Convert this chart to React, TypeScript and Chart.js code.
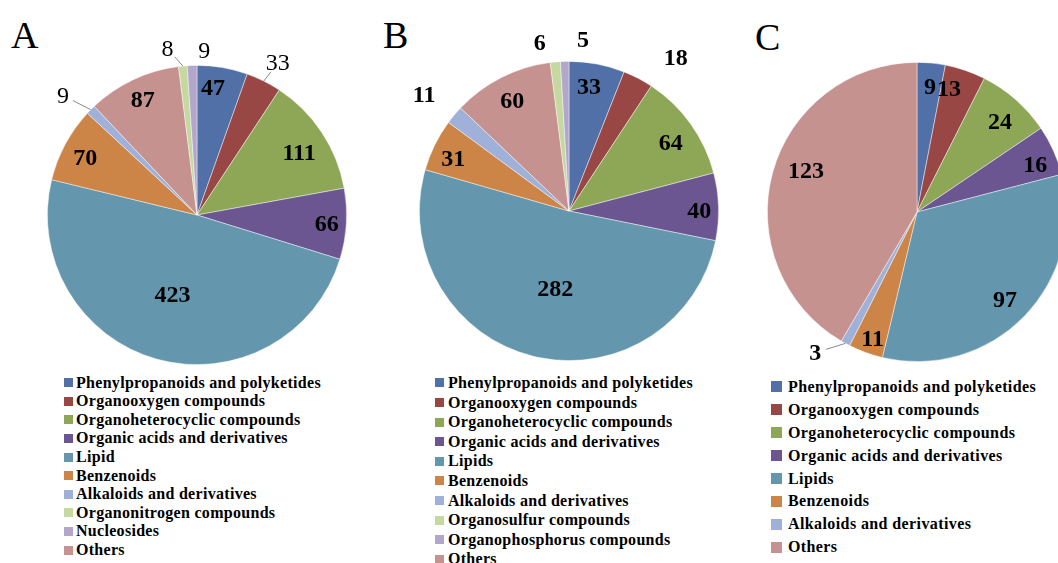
import React, { useEffect, useRef } from "react";
import { Chart, registerables } from "chart.js";
Chart.register(...registerables);

const FONT = "'Liberation Serif', 'Times New Roman', serif";

const BLUE = "#5170A8";
const RED = "#984745";
const GREEN = "#8EA756";
const PURPLE = "#6B5691";
const TEAL = "#6497AE";
const ORANGE = "#CD8547";
const LBLUE = "#9FB0D9";
const PINK = "#C59290";
const LGREEN = "#C4D8A0";
const LAVENDER = "#B2A6CB";

// ---- Panel A ----
const aCategories = [
  "Phenylpropanoids and polyketides",
  "Organooxygen compounds",
  "Organoheterocyclic compounds",
  "Organic acids and derivatives",
  "Lipid",
  "Benzenoids",
  "Alkaloids and derivatives",
  "Others",
  "Organonitrogen compounds",
  "Nucleosides",
];
const aValues = [47, 33, 111, 66, 423, 70, 9, 87, 8, 9];
const aColors = [BLUE, RED, GREEN, PURPLE, TEAL, ORANGE, LBLUE, PINK, LGREEN, LAVENDER];
const aLegendOrder = [0, 1, 2, 3, 4, 5, 6, 8, 9, 7];
const aLabelRadius = [0.86, 1.15, 0.8, 0.87, 0.56, 0.84, 1.2, 0.85, 1.13, 1.1];
const aLabelShift = [-2.7, 1.5, 2, 0.5, 1.5, -1, -3, 0, -4.6, 4.4];
const aLeader = [false, true, false, false, false, false, true, false, true, false];
const aBold = [true, false, true, true, true, true, false, true, false, false];

// ---- Panel B ----
const bCategories = [
  "Phenylpropanoids and polyketides",
  "Organooxygen compounds",
  "Organoheterocyclic compounds",
  "Organic acids and derivatives",
  "Lipids",
  "Benzenoids",
  "Alkaloids and derivatives",
  "Others",
  "Organosulfur compounds",
  "Organophosphorus compounds",
];
const bValues = [33, 18, 64, 40, 282, 31, 11, 60, 6, 5];
const bColors = [BLUE, RED, GREEN, PURPLE, TEAL, ORANGE, LBLUE, PINK, LGREEN, LAVENDER];
const bLegendOrder = [0, 1, 2, 3, 4, 5, 6, 8, 9, 7];
const bLabelRadius = [0.84, 1.25, 0.82, 0.87, 0.53, 0.85, 1.24, 0.83, 1.14, 1.15];
const bLabelShift = [-1.6, 7.3, 1.7, 1.6, -3.8, -1.7, -1.3, -0.4, -4.6, 6.3];
const bLeader = [false, false, false, false, false, false, false, false, false, false];
const bBold = [true, true, true, true, true, true, true, true, true, true];

// ---- Panel C ----
const cCategories = [
  "Phenylpropanoids and polyketides",
  "Organooxygen compounds",
  "Organoheterocyclic compounds",
  "Organic acids and derivatives",
  "Lipids",
  "Benzenoids",
  "Alkaloids and derivatives",
  "Others",
];
const cValues = [9, 13, 24, 16, 97, 11, 3, 123];
const cColors = [BLUE, RED, GREEN, PURPLE, TEAL, ORANGE, LBLUE, PINK];
const cLegendOrder = [0, 1, 2, 3, 4, 5, 6, 7];
const cLabelRadius = [0.84, 0.85, 0.82, 0.85, 0.83, 0.9, 1.16, 0.79];
const cLabelShift = [0.5, -4.3, 1.3, 2.6, 0.5, -0.8, 7.3, 5];
const cLeader = [false, false, false, false, false, false, true, false];
const cBold = [true, true, true, true, true, true, true, true];

type PanelProps = {
  letter: string;
  letterX: number;
  letterY: number;
  categories: string[];
  values: number[];
  colors: string[];
  legendOrder: number[];
  labelRadius: number[];
  labelShift: number[];
  leader: boolean[];
  bold: boolean[];
  canvasLeft: number;
  canvasW: number;
  canvasH: number;
  pad: { left: number; top: number; right: number; bottom: number };
  legendX: number;
  legendY: number;
  legendRow: number;
  legendBox: number;
  legendFont: number;
  legendSpacing: number;
  legendGap: number;
};

const labelPlugin = {
  id: "sliceLabels",
  afterDatasetsDraw(chart: any, _args: any, opts: any) {
    const ctx = chart.ctx;
    const meta = chart.getDatasetMeta(0);
    const data = chart.data.datasets[0].data as number[];
    ctx.save();
    meta.data.forEach((arc: any, i: number) => {
      const { x, y, startAngle, endAngle, outerRadius } = arc.getProps(
        ["x", "y", "startAngle", "endAngle", "outerRadius"],
        true
      );
      const mid = (startAngle + endAngle) / 2;
      const a = mid + (opts.shift[i] * Math.PI) / 180;
      const r = outerRadius * opts.radius[i];
      const lx = x + Math.cos(a) * r;
      const ly = y + Math.sin(a) * r;
      if (opts.leader[i]) {
        const sx = x + Math.cos(mid) * outerRadius;
        const sy = y + Math.sin(mid) * outerRadius;
        const dx = sx - lx;
        const dy = sy - ly;
        const d = Math.hypot(dx, dy) || 1;
        const ex = lx + (dx / d) * 11;
        const ey = ly + (dy / d) * 11;
        ctx.strokeStyle = "#8a8a8a";
        ctx.lineWidth = 1;
        ctx.beginPath();
        ctx.moveTo(sx, sy);
        ctx.lineTo(ex, ey);
        ctx.stroke();
      }
      ctx.fillStyle = "#000";
      ctx.textAlign = "center";
      ctx.textBaseline = "middle";
      ctx.font = `${opts.bold[i] ? "bold " : ""}24px ${FONT}`;
      ctx.fillText(String(data[i]), lx, ly + 1);
    });
    ctx.restore();
  },
};

function Panel(p: PanelProps) {
  const ref = useRef<HTMLCanvasElement | null>(null);
  useEffect(() => {
    if (!ref.current) return;
    const chart = new Chart(ref.current, {
      type: "pie",
      data: {
        labels: p.categories,
        datasets: [
          {
            data: p.values,
            backgroundColor: p.colors,
            borderColor: "rgba(255,255,255,0.55)",
            borderWidth: 0.8,
            hoverOffset: 0,
          },
        ],
      },
      options: {
        animation: false,
        responsive: false,
        layout: { padding: p.pad },
        plugins: {
          legend: { display: false },
          tooltip: { enabled: false },
          sliceLabels: {
            radius: p.labelRadius,
            shift: p.labelShift,
            leader: p.leader,
            bold: p.bold,
          },
        } as any,
      },
      plugins: [labelPlugin],
    });
    return () => chart.destroy();
  }, []);
  return (
    <>
      <div
        style={{
          position: "absolute",
          left: p.letterX,
          top: p.letterY,
          fontFamily: FONT,
          fontSize: 38,
          lineHeight: 1,
          color: "#000",
        }}
      >
        {p.letter}
      </div>
      <canvas
        ref={ref}
        width={p.canvasW}
        height={p.canvasH}
        style={{
          position: "absolute",
          left: p.canvasLeft,
          top: 0,
          width: p.canvasW,
          height: p.canvasH,
        }}
      />
      <div style={{ position: "absolute", left: p.legendX, top: p.legendY }}>
        {p.legendOrder.map((i) => (
          <div
            key={i}
            style={{
              display: "flex",
              alignItems: "center",
              height: p.legendRow,
              whiteSpace: "nowrap",
            }}
          >
            <span
              style={{
                display: "inline-block",
                width: p.legendBox,
                height: p.legendBox,
                background: p.colors[i],
                marginRight: p.legendGap,
                flex: "none",
              }}
            />
            <span
              style={{
                fontFamily: FONT,
                fontWeight: "bold",
                fontSize: p.legendFont,
                letterSpacing: p.legendSpacing,
                color: "#000",
                lineHeight: 1,
              }}
            >
              {p.categories[i]}
            </span>
          </div>
        ))}
      </div>
    </>
  );
}

export default function App() {
  return (
    <div
      style={{
        position: "fixed",
        left: 0,
        top: 0,
        width: 1058,
        height: 563,
        overflow: "hidden",
        background: "#fff",
      }}
    >
      <Panel
        letter="A"
        letterX={11}
        letterY={16}
        categories={aCategories}
        values={aValues}
        colors={aColors}
        legendOrder={aLegendOrder}
        labelRadius={aLabelRadius}
        labelShift={aLabelShift}
        leader={aLeader}
        bold={aBold}
        canvasLeft={0}
        canvasW={360}
        canvasH={370}
        pad={{ left: 47, top: 65, right: 13, bottom: 5 }}
        legendX={64}
        legendY={373.4}
        legendRow={18.6}
        legendBox={9}
        legendFont={16}
        legendSpacing={0.3}
        legendGap={3}
      />
      <Panel
        letter="B"
        letterX={383}
        letterY={16}
        categories={bCategories}
        values={bValues}
        colors={bColors}
        legendOrder={bLegendOrder}
        labelRadius={bLabelRadius}
        labelShift={bLabelShift}
        leader={bLeader}
        bold={bBold}
        canvasLeft={360}
        canvasW={380}
        canvasH={370}
        pad={{ left: 59, top: 61, right: 21, bottom: 9 }}
        legendX={435}
        legendY={373.2}
        legendRow={19.6}
        legendBox={9}
        legendFont={16}
        legendSpacing={0.3}
        legendGap={4}
      />
      <Panel
        letter="C"
        letterX={755}
        letterY={18}
        categories={cCategories}
        values={cValues}
        colors={cColors}
        legendOrder={cLegendOrder}
        labelRadius={cLabelRadius}
        labelShift={cLabelShift}
        leader={cLeader}
        bold={cBold}
        canvasLeft={740}
        canvasW={330}
        canvasH={370}
        pad={{ left: 27, top: 62, right: 3, bottom: 8 }}
        legendX={771}
        legendY={375.5}
        legendRow={22.9}
        legendBox={11}
        legendFont={16}
        legendSpacing={0.4}
        legendGap={6}
      />
    </div>
  );
}
